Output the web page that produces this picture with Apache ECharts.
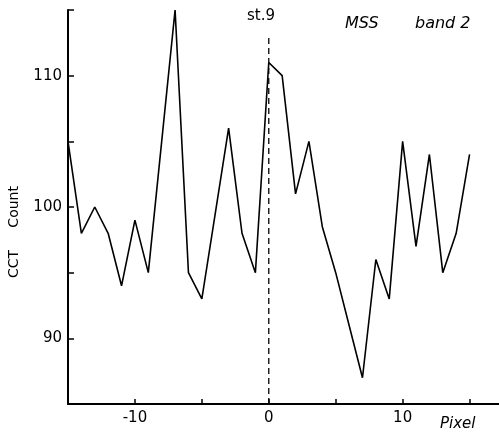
<!DOCTYPE html>
<html>
<head>
<meta charset="utf-8">
<script src="https://cdn.jsdelivr.net/npm/echarts@6/dist/echarts.min.js"></script>
<style>
    html, body { margin: 0; padding: 0; background: #fff; }
    #chart { width: 499px; height: 437px; }
</style>
</head>
<body>
<div id="chart"></div>
<script>
// pixel offset from station 9 and the CCT count read at each pixel
const pixels = [-15, -14, -13, -12, -11, -10, -9, -8, -7, -6, -5, -4, -3, -2, -1, 0, 1, 2, 3, 4, 5, 6, 7, 8, 9, 10, 11, 12, 13, 14, 15];
const counts = [105, 98, 100, 98, 94, 99, 95, 105, 115, 95, 93, 99.5, 106, 98, 95, 111, 110, 101, 105, 98.5, 95, 91, 87, 96, 93, 105, 97, 104, 95, 98, 104];
const xLabels = [-10, 0, 10];
const yLabels = [90, 100, 110];
const stationLine = [[0, 85], [0, 113]];

const font = "DejaVu Sans";
const chart = echarts.init(document.getElementById("chart"));

chart.setOption({
    animation: false,
    grid: { left: 68, right: 0, top: 10, bottom: 33 },
    xAxis: {
        type: "value",
        min: -15,
        max: 17.2,
        interval: 5,
        splitLine: { show: false },
        axisLine: { onZero: false, lineStyle: { color: "#000", width: 2 } },
        axisTick: { inside: true, length: 5, lineStyle: { color: "#000", width: 1.5 } },
        axisLabel: {
            margin: 7,
            color: "#000",
            fontFamily: font,
            fontSize: 15,
            showMaxLabel: false,
            formatter: v => (xLabels.includes(v) ? String(v) : "")
        }
    },
    yAxis: {
        type: "value",
        min: 85,
        max: 115,
        interval: 5,
        splitLine: { show: false },
        axisLine: { onZero: false, lineStyle: { color: "#000", width: 2 } },
        axisTick: { inside: true, length: 6, lineStyle: { color: "#000", width: 1.5 } },
        axisLabel: {
            margin: 6,
            color: "#000",
            fontFamily: font,
            fontSize: 15,
            formatter: v => (yLabels.includes(v) ? String(v) : "")
        }
    },
    series: [
        {
            type: "line",
            data: pixels.map((p, i) => [p, counts[i]]),
            showSymbol: false,
            lineStyle: { color: "#000", width: 1.6 }
        },
        {
            type: "line",
            data: stationLine,
            showSymbol: false,
            lineStyle: { color: "#000", width: 1.3, type: [6, 4] }
        }
    ],
    graphic: [
        { type: "text", left: 247, top: 9, style: { text: "st.9", font: "15px " + font, fill: "#000" } },
        { type: "text", left: 345, top: 16, style: { text: "MSS", font: "italic 16px " + font, fill: "#000" } },
        { type: "text", left: 415, top: 16, style: { text: "band 2", font: "italic 16px " + font, fill: "#000" } },
        { type: "text", left: 440, top: 417, style: { text: "Pixel", font: "italic 15px " + font, fill: "#000" } },
        {
            type: "text",
            x: 7,
            y: 278,
            rotation: Math.PI / 2,
            style: { text: "CCT     Count", font: "14px " + font, fill: "#000" }
        }
    ]
});
</script>
</body>
</html>
